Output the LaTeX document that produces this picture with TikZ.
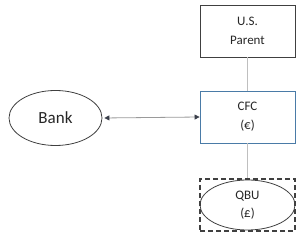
\documentclass[tikz,border=0pt]{standalone}
\usepackage{fontspec}
\setmainfont{Carlito}
\usetikzlibrary{shapes.geometric,arrows.meta}
\definecolor{boxgray}{HTML}{404040}
\definecolor{cfcblue}{HTML}{4A7BA7}
\definecolor{linegray}{HTML}{BFBFBF}
\definecolor{arrowgray}{HTML}{9A9A9A}
\definecolor{tipdark}{HTML}{3A3F4A}
\tikzset{
  entbox/.style={draw=boxgray, line width=0.8pt, minimum width=95pt, minimum height=52pt, inner sep=0pt, align=center, font=\fontsize{13}{19}\selectfont, text=black!85},
  ovalnode/.style={ellipse, draw=boxgray, line width=0.8pt, inner sep=0pt, align=center},
  tie/.style={draw=linegray, line width=1.2pt},
}
\begin{document}
\begin{tikzpicture}[x=1pt,y=-1pt]
\useasboundingbox (0,0) rectangle (300,237);
\node[entbox] (parent) at (247.5,31) {U.S.\\Parent};
\node[entbox, draw=cfcblue] (cfc) at (247.5,117) {CFC\\(€)};
\node[draw=boxgray, dash pattern=on 5pt off 3pt, line width=1.5pt, minimum width=95pt, minimum height=52pt, inner sep=0pt] (qbubox) at (247.5,205) {};
\node[ovalnode, minimum width=95pt, minimum height=50pt, font=\fontsize{13}{18}\selectfont, text=black!85] (qbu) at (247.5,205) {QBU\\(£)};
\node[ovalnode, minimum width=93pt, minimum height=55pt, font=\fontsize{17}{19}\selectfont, text=black!85] (bank) at (55.5,118) {Bank};
\draw[tie] (parent.south) -- (cfc.north);
\draw[tie] (cfc.south) -- (qbubox.north);
\draw[draw=arrowgray, line width=0.8pt, {Triangle[length=5pt,width=5pt,fill=tipdark,color=tipdark]}-{Triangle[length=5pt,width=5pt,fill=tipdark,color=tipdark]}, shorten <=2pt] (bank.east) -- (cfc.west);
\end{tikzpicture}
\end{document}
